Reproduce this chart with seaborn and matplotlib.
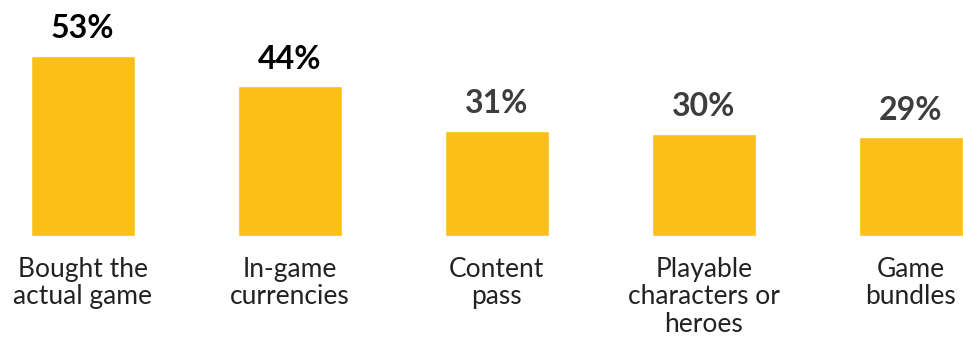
import matplotlib
matplotlib.use("Agg")
import matplotlib.pyplot as plt
import seaborn as sns
import pandas as pd

categories = ["Bought the\nactual game", "In-game\ncurrencies", "Content\npass",
              "Playable\ncharacters or\nheroes", "Game\nbundles"]
values = [53, 44, 31, 30, 29]
label_colors = ["#000000", "#000000", "#3d3d3d", "#3d3d3d", "#3d3d3d"]

sns.set_theme(style="white")
plt.rcParams["font.family"] = ["Lato", "DejaVu Sans"]

df = pd.DataFrame({"cat": categories, "val": values})

fig = plt.figure(figsize=(9.63, 3.38), dpi=100)
ax = fig.add_axes([31 / 963, 102 / 338, 931.5 / 963, 236 / 338])
sns.barplot(data=df, x="cat", y="val", order=categories, color="#FBC016",
            width=0.5, saturation=1, ax=ax)
ax.set_xlim(-0.25, 4.25)
ax.set_ylim(0, 69.4)
texts = ax.bar_label(ax.containers[0], labels=[f"{v}%" for v in values],
                     padding=9, fontsize=23, fontweight="bold")
for t, c in zip(texts, label_colors):
    t.set_color(c)
ax.set_xlabel("")
ax.set_ylabel("")
ax.set_yticks([])
ax.tick_params(axis="x", length=0, pad=15)
for lbl in ax.get_xticklabels():
    lbl.set_fontsize(19)
    lbl.set_fontweight("normal")
    lbl.set_color("#222222")
    lbl.set_linespacing(1.12)
    lbl.set_verticalalignment("top")
for s in ax.spines.values():
    s.set_visible(False)
fig.savefig("out.png", dpi=100)
